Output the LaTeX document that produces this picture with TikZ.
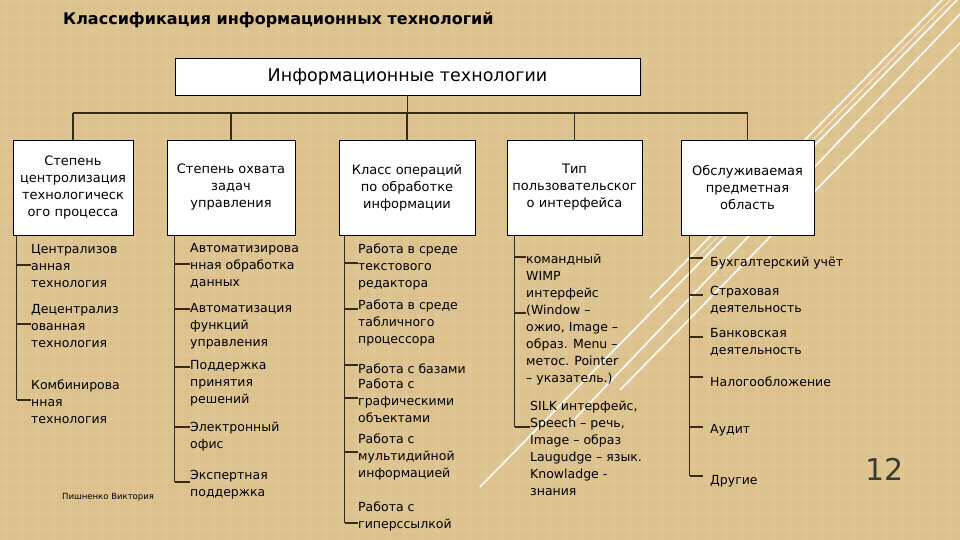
\documentclass[tikz,border=0pt]{standalone}
\usepackage{fontspec}
\setmainfont{DejaVu Sans}
\definecolor{bgTan}{RGB}{221,195,143}
\definecolor{lineBrown}{RGB}{55,42,25}
\definecolor{numGray}{RGB}{58,60,45}
\newcommand{\lst}{\fontsize{12.5}{17}\selectfont}

\begin{document}
\begin{tikzpicture}[
    x=1pt, y=-1pt,
    font=\lst,
    hbox/.style={draw=black, fill=white, align=center, inner sep=0pt, minimum height=95pt,
                 font=\fontsize{13}{17}\selectfont},
    item/.style={anchor=north west, inner sep=0pt, align=left, yshift=3.5pt, execute at begin node=\strut},
    link/.style={draw=lineBrown, line width=1.1pt},
    deco/.style={white, line width=1.8pt, opacity=0.85},
  ]
    \useasboundingbox (0,0) rectangle (960,540);
    \fill[bgTan] (0,0) rectangle (960,540);
    % woven texture
    \foreach \x in {3,19,...,960} \fill[white, opacity=0.06] (\x,0) rectangle ++(5,540);
    \foreach \y in {5,21,...,540} \fill[brown, opacity=0.04] (0,\y) rectangle ++(960,4);
    % diagonal lines
    \draw[deco] (957,0) -- (480,487);
    \draw[deco] (962,12) -- (567,427);
    \draw[deco] (960,43) -- (620,390);
    \draw[deco] (942,0) -- (650,298);
    \draw[deco, line width=1pt, opacity=0.6] (950,0) -- (700,255);

    \node[anchor=west, inner sep=0pt, font=\fontsize{16}{19}\selectfont\bfseries] (title) at (63,20) {Классификация информационных технологий};

    \node[draw=black, fill=white, minimum width=465pt, minimum height=37pt, font=\fontsize{17.5}{20}\selectfont] (it) at (407.5,76.5) {Информационные технологии};

    \node[hbox, minimum width=120pt] (degree) at (73,187.5) {Степень\\центролизация\\технологическ\\ого процесса};
    \node[hbox, minimum width=128pt] (scope) at (231,187.5) {Степень охвата\\задач\\управления};
    \node[hbox, minimum width=136pt] (ops) at (407,187.5) {Класс операций\\по обработке\\информации};
    \node[hbox, minimum width=135pt] (ui) at (574.5,187.5) {Тип\\пользовательског\\о интерфейса};
    \node[hbox, minimum width=133pt] (area) at (747.5,187.5) {Обслуживаемая\\предметная\\область};

    % bus
    \coordinate (bus) at (0,113);
    \draw[link] (it.south) -- (it.south |- bus);
    \draw[link] (degree.north |- bus) -- (area.north |- bus);
    \foreach \h in {degree,scope,ops,ui,area}
      \draw[link] (\h.north |- bus) -- (\h.north);

    % column 1
    \node[item] (cent) at (31,248) {Централизов\\анная\\технология};
    \node[item] (decent) at (31,308) {Децентрализ\\ованная\\технология};
    \node[item] (comb) at (31,383) {Комбинирова\\нная\\технология};
    \draw[link] ([xshift=4pt]degree.south west) -- ++(0,165);
    \foreach \n/\t in {cent/265, decent/324, comb/400}
      \draw[link] (17,\t) -- (\n.west |- 0,\t);

    % column 2
    \node[item] (auto) at (190,247) {Автоматизирова\\нная обработка\\данных};
    \node[item] (autof) at (190,307) {Автоматизация\\функций\\управления};
    \node[item] (dss) at (190,364) {Поддержка\\принятия\\решений};
    \node[item] (office) at (190,425) {Электронный\\офис};
    \node[item] (expert) at (190,474) {Экспертная\\поддержка};
    \draw[link] ([xshift=8pt]scope.south west) -- ++(0,247);
    \foreach \n/\t in {auto/264, autof/309, dss/367, office/427, expert/482}
      \draw[link] (175,\t) -- (\n.west |- 0,\t);

    % column 3
    \node[item] (text) at (358,247) {Работа в среде\\текстового\\редактора};
    \node[item] (table) at (358,303) {Работа в среде\\табличного\\процессора};
    \node[item] (db) at (358,365) {Работа с базами};
    \node[item] (graph) at (358,382) {Работа с\\графическими\\объектами};
    \node[item] (media) at (358,437) {Работа с\\мультидийной\\информацией};
    \node[item] (hyper) at (358,505) {Работа с\\гиперссылкой};
    \draw[link] ([xshift=6pt]ops.south west) -- ++(0,288);
    \foreach \n/\t in {text/263, table/309, db/365, graph/398, media/452, hyper/523}
      \draw[link] (345,\t) -- (\n.west |- 0,\t);

    % column 4
    \node[item] (wimp) at (526,257) {командный\\WIMP\\интерфейс\\(Window –\\ожио, Image –\\образ. Menu –\\метос. Pointer\\– указатель.)};
    \node[item] (silk) at (530,404) {SILK интерфейс,\\Speech – речь,\\Image – образ\\Laugudge – язык.\\Knowladge -\\знания};
    \draw[link] ([xshift=8pt]ui.south west) -- ++(0,192);
    \foreach \n/\t in {wimp/257, wimp/313, silk/427}
      \draw[link] (515,\t) -- (\n.west |- 0,\t);

    % column 5
    \node[item] (acc) at (710,258) {Бухгалтерский учёт};
    \node[item] (ins) at (710,290) {Страховая\\деятельность};
    \node[item] (bank) at (710,332) {Банковская\\деятельность};
    \node[item] (tax) at (710,378) {Налогообложение};
    \node[item] (audit) at (710,425) {Аудит};
    \node[item] (other) at (710,476) {Другие};
    \draw[link] ([xshift=9pt]area.south west) -- ++(0,241);
    \foreach \n/\t in {acc/258, ins/295, bank/337, tax/377, audit/427, other/476}
      \draw[link] (690,\t) -- ([xshift=-7pt]\n.west |- 0,\t);

    \node[anchor=west, inner sep=0pt, font=\fontsize{8.5}{10}\selectfont] (author) at (62,497) {Пишненко Виктория};
    \node[anchor=west, inner sep=0pt, font=\fontsize{30}{34}\selectfont, text=numGray] (page) at (865,469) {12};
  \end{tikzpicture}
\end{document}
